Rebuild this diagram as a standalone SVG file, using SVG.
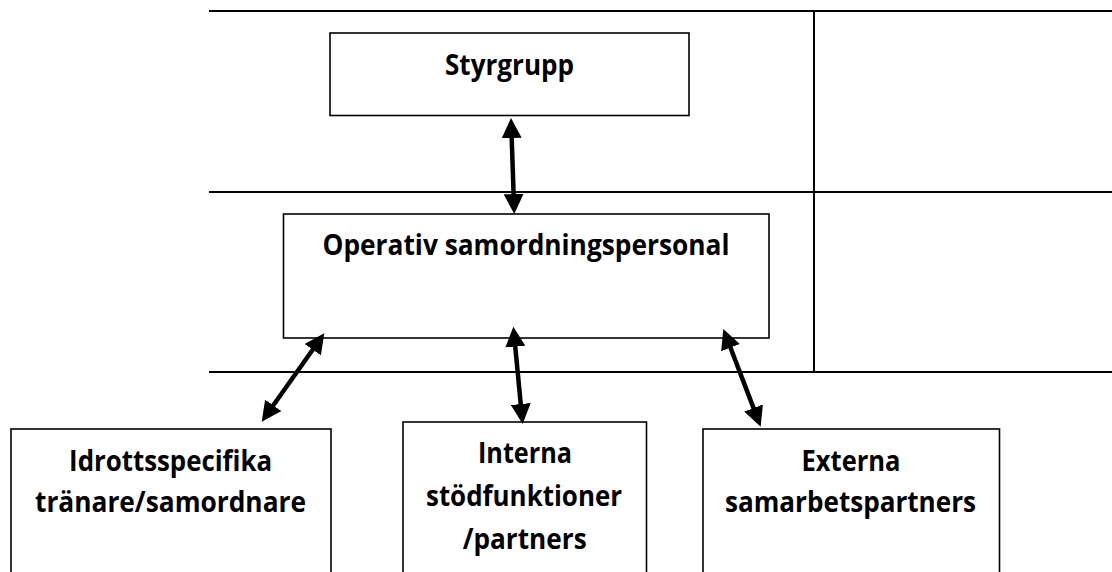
<svg xmlns="http://www.w3.org/2000/svg" width="1112" height="572" viewBox="0 0 1112 572">
<style>
.grid{stroke:#000;stroke-width:2;fill:none}
.box{fill:#fff;stroke:#000;stroke-width:1.6}
.lbl{font-family:"Open Sans","Noto Sans","Liberation Sans",sans-serif;font-weight:bold;font-size:28px;fill:#000;text-anchor:middle}
.arr{stroke:#000;stroke-width:4.5;fill:none;marker-start:url(#ah);marker-end:url(#ah)}
</style>
<defs>
<marker id="ah" markerUnits="userSpaceOnUse" markerWidth="20" markerHeight="20" viewBox="0 0 20 20" refX="10" refY="10" orient="auto-start-reverse">
<path d="M0,0 L20,10 L0,20 z" fill="#000"/>
</marker>
</defs>
<rect width="1112" height="572" fill="#fff"/>
<g id="table">
<line class="grid" x1="209" y1="11" x2="1112" y2="11"/>
<line class="grid" x1="209" y1="192" x2="1112" y2="192"/>
<line class="grid" x1="209" y1="372" x2="1112" y2="372"/>
<line class="grid" x1="814" y1="11" x2="814" y2="372"/>
</g>
<g id="styrgrupp">
<rect class="box" x="330" y="33" width="359" height="82.5"/>
<text class="lbl" x="509.5" y="75" textLength="129" lengthAdjust="spacingAndGlyphs">Styrgrupp</text>
</g>
<g id="operativ">
<rect class="box" x="283.5" y="214" width="485.5" height="124"/>
<text class="lbl" x="526" y="254.5" textLength="407" lengthAdjust="spacingAndGlyphs">Operativ samordningspersonal</text>
</g>
<g id="idrott">
<rect class="box" x="11" y="429" width="320" height="160"/>
<text class="lbl" x="170.6" y="471" textLength="203" lengthAdjust="spacingAndGlyphs">Idrottsspecifika</text>
<text class="lbl" x="170.5" y="512" textLength="271" lengthAdjust="spacingAndGlyphs">tränare/samordnare</text>
</g>
<g id="interna">
<rect class="box" x="403" y="422" width="243.5" height="167"/>
<text class="lbl" x="525" y="463" textLength="94" lengthAdjust="spacingAndGlyphs">Interna</text>
<text class="lbl" x="524" y="506" textLength="196" lengthAdjust="spacingAndGlyphs">stödfunktioner</text>
<text class="lbl" x="524.7" y="549" textLength="124" lengthAdjust="spacingAndGlyphs">/partners</text>
</g>
<g id="externa">
<rect class="box" x="703" y="429" width="296.5" height="160"/>
<text class="lbl" x="851" y="470.5" textLength="99" lengthAdjust="spacingAndGlyphs">Externa</text>
<text class="lbl" x="850.5" y="512" textLength="251" lengthAdjust="spacingAndGlyphs">samarbetspartners</text>
</g>
<g id="connectors">
<line class="arr" x1="511.34" y1="128" x2="513.96" y2="204"/>
<line class="arr" x1="318.5" y1="341.5" x2="267.5" y2="413.5"/>
<line class="arr" x1="514.3" y1="336.7" x2="521.7" y2="414"/>
<line class="arr" x1="726.9" y1="338.3" x2="757.1" y2="417.4"/>
</g>
</svg>
